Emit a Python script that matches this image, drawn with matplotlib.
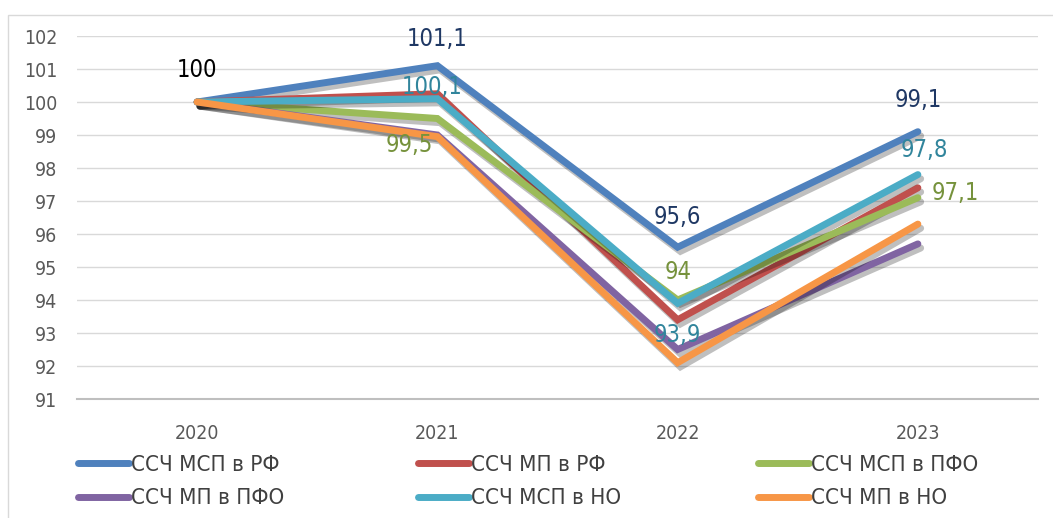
import matplotlib.pyplot as plt
import matplotlib.patheffects as pe
from matplotlib.patches import Rectangle
from matplotlib.lines import Line2D

plt.rcParams['font.family'] = ['DejaVu Sans']
plt.rcParams['font.stretch'] = 'condensed'

years = ['2020', '2021', '2022', '2023']
names = ['ССЧ МСП в РФ', 'ССЧ МП в РФ', 'ССЧ МСП в ПФО',
         'ССЧ МП в ПФО', 'ССЧ МСП в НО', 'ССЧ МП в НО']
msp_rf = [100, 101.1, 95.6, 99.1]
mp_rf = [100, 100.25, 93.4, 97.4]
msp_pfo = [100, 99.5, 94.0, 97.1]
mp_pfo = [100, 99.0, 92.5, 95.7]
msp_no = [100, 100.1, 93.9, 97.8]
mp_no = [100, 98.95, 92.1, 96.3]
series = [msp_rf, mp_rf, msp_pfo, mp_pfo, msp_no, mp_no]
colors = ['#4F81BD', '#C0504D', '#9BBB59', '#8064A2', '#4BACC6', '#F79646']

# data labels: (series index, point index, text colour, offset px)
labels = [(0, 0, '#000000', (0, 32)),
          (0, 1, '#1F3864', (0, 27)),
          (4, 1, '#31859C', (-5, 12)),
          (2, 1, '#76923C', (-28, -26)),
          (0, 2, '#1F3864', (0, 30)),
          (2, 2, '#76923C', (0, 28)),
          (4, 2, '#31859C', (0, -32)),
          (0, 3, '#1F3864', (0, 32)),
          (4, 3, '#31859C', (7, 25)),
          (2, 3, '#76923C', (37, 5))]

fig = plt.figure(figsize=(10.53, 5.18), dpi=100)
fig.patches.append(Rectangle((8 / 1053, -0.01), 1.0, 1 - 15 / 518 + 0.01,
                             transform=fig.transFigure, fill=False,
                             edgecolor='#d9d9d9', linewidth=1))
ax = fig.add_axes([77 / 1053, 1 - 399 / 518, (1038 - 77) / 1053, (399 - 36) / 518])

x = range(len(years))
shadow = [pe.SimpleLineShadow(offset=(2, -3), shadow_color='k', alpha=0.25, rho=0.3),
          pe.Normal()]
for vals, name, c in zip(series, names, colors):
    ax.plot(x, vals, color=c, linewidth=5, label=name,
            solid_capstyle='round', solid_joinstyle='miter', path_effects=shadow)

for si, pi, tc, off in labels:
    v = series[si][pi]
    txt = f'{v:g}'.replace('.', ',')
    ax.annotate(txt, (pi, v), xytext=off, textcoords='offset pixels',
                ha='center', va='center', fontsize=17, color=tc)

ax.set_xlim(-0.5, 3.5)
ax.set_ylim(91, 102)
ax.set_yticks(range(91, 103))
ax.set_xticks(list(x))
ax.set_xticklabels(years)
ax.grid(axis='y', color='#d9d9d9', linewidth=1)
ax.set_axisbelow(True)
for s in ['top', 'right', 'left']:
    ax.spines[s].set_visible(False)
ax.spines['bottom'].set_color('#bfbfbf')
ax.spines['bottom'].set_linewidth(1.5)
ax.tick_params(length=0, labelsize=14, colors='#595959')
ax.tick_params(axis='y', pad=14)
ax.tick_params(axis='x', pad=18)

# legend: three columns, filled row by row
col_x = [78, 418, 758]
for j in range(3):
    hs = [Line2D([], [], color=colors[k], linewidth=5, solid_capstyle='round')
          for k in (j, j + 3)]
    leg = fig.legend(hs, [names[j], names[j + 3]], loc='upper left',
                     bbox_to_anchor=(col_x[j] / 1053, 1 - 455 / 518),
                     frameon=False, fontsize=16, handlelength=2.3,
                     handletextpad=0.1, labelspacing=0.6, borderaxespad=0,
                     borderpad=0)
    for t in leg.get_texts():
        t.set_color('#404040')

fig.savefig('out.png', dpi=100)
